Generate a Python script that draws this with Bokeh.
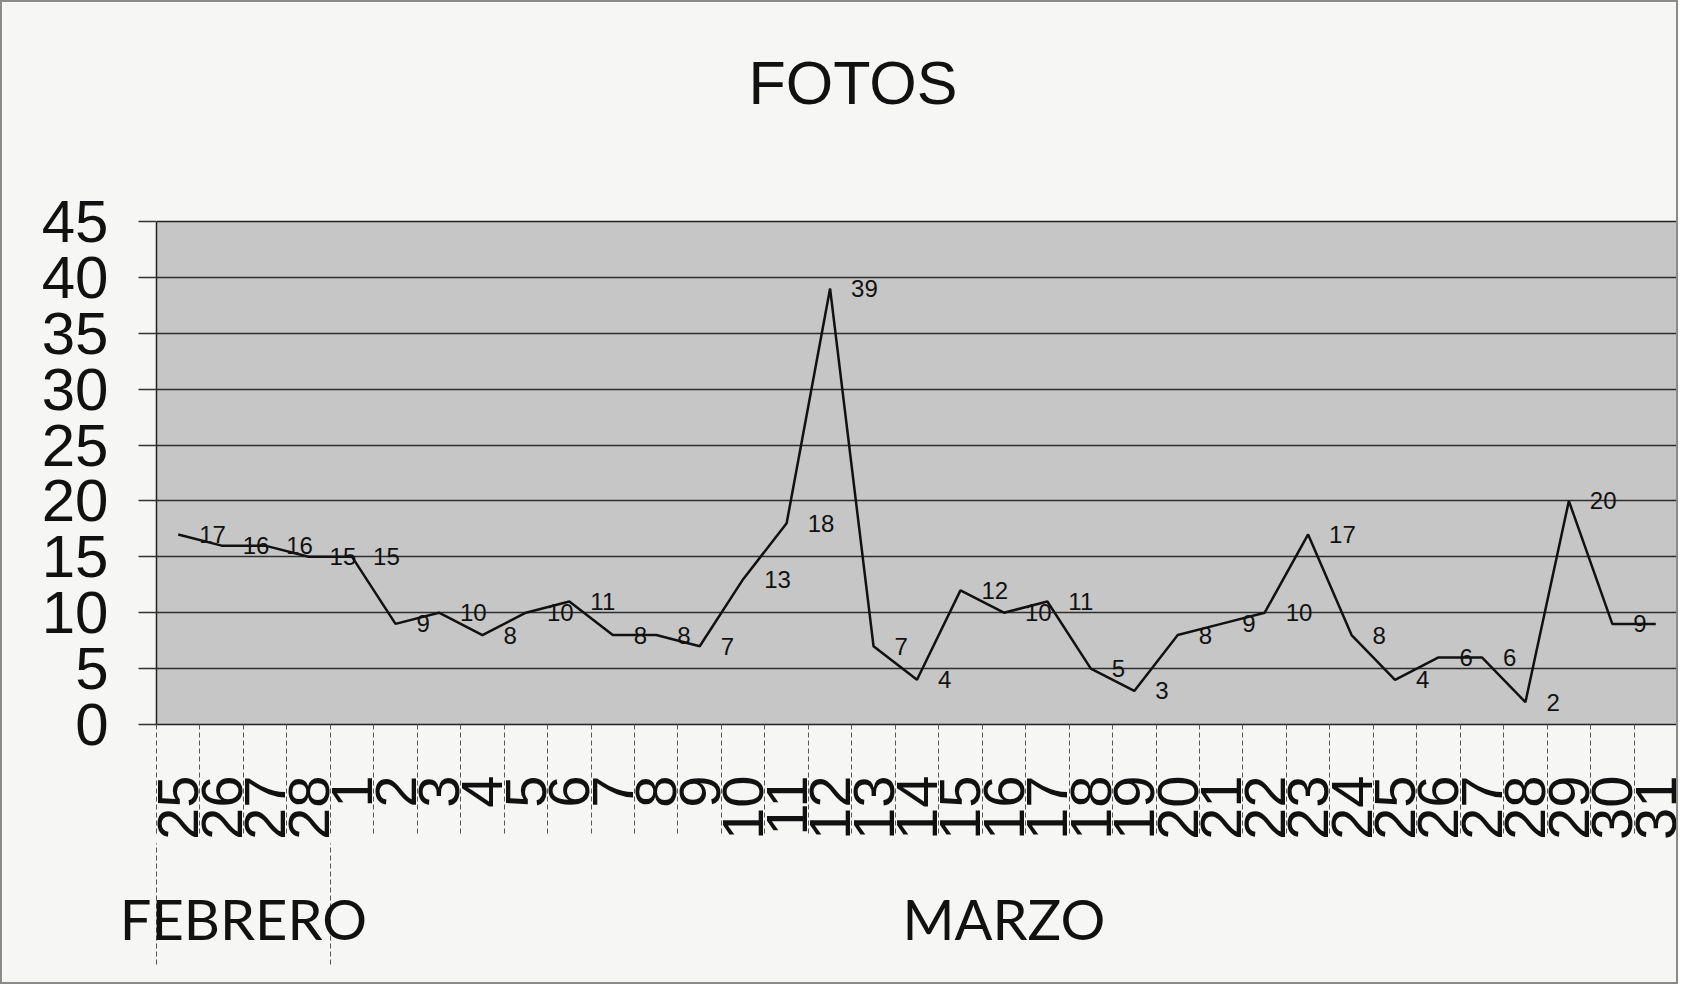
import math
from bokeh.plotting import figure
from bokeh.models import (Range1d, LinearAxis, FixedTicker, CustomJSTickFormatter,
                          ColumnDataSource)
from bokeh.core.properties import value
from bokeh.embed import file_html
from bokeh.resources import INLINE

# ---- data ----
months = ["FEBRERO", "MARZO"]
month_days = [
    ["25", "26", "27", "28"],
    [str(d) for d in range(1, 32)],
]
fotos = [17, 16, 16, 15, 15, 9, 10, 8, 10, 11, 8, 8, 7, 13, 18, 39, 7, 4,
         12, 10, 11, 5, 3, 8, 9, 10, 17, 8, 4, 6, 6, 2, 20, 9, 9]
y_ticks = [0, 5, 10, 15, 20, 25, 30, 35, 40, 45]

days = [d for grp in month_days for d in grp]
n = len(days)
xc = [i + 0.5 for i in range(n)]
bounds = list(range(n + 1))

grp_centres, grp_bounds = [], [0]
start = 0
for grp in month_days:
    grp_centres.append(start + len(grp) / 2)
    start += len(grp)
    grp_bounds.append(start)

src = ColumnDataSource(dict(x=xc, y=fotos, lbl=[str(v) for v in fotos]))

PAPER = "#f6f6f4"

p = figure(width=1678, height=984, output_backend="svg", toolbar_location=None,
           x_range=Range1d(0, n), y_range=Range1d(0, 45),
           x_axis_type=None, title="FOTOS",
           min_border_left=154, min_border_right=3, min_border_top=219,
           min_border_bottom=262)

p.styles = {"border": "2px solid #8a8a8a"}
p.background_fill_color = "#c6c6c6"
p.border_fill_color = PAPER
p.outline_line_color = "#222222"
p.outline_line_width = 1.5

# spacer between frame and title (invisible axis above)
spacer = LinearAxis(ticker=FixedTicker(ticks=[0], minor_ticks=[]),
                    formatter=CustomJSTickFormatter(code="return ''"))
spacer.axis_line_color = None
spacer.major_tick_out = 100
spacer.major_tick_in = 0
spacer.major_tick_line_color = PAPER
spacer.major_label_standoff = 0
spacer.major_label_text_font_size = "1px"
spacer.minor_tick_out = 0
spacer.minor_tick_in = 0
p.add_layout(spacer, "above")

# title
p.title.text_font = "Liberation Sans"
p.title.text_font_size = "61px"
p.title.text_font_style = "normal"
p.title.text_color = "#111111"
p.title.align = "left"
p.title.offset = 592
p.title.standoff = 10

# y axis
ya = p.yaxis[0]
ya.ticker = FixedTicker(ticks=y_ticks, minor_ticks=[])
ya.major_label_text_font = "Liberation Sans"
ya.major_label_text_font_size = "60px"
ya.major_label_text_color = "#111111"
ya.major_tick_out = 18
ya.major_tick_in = 0
ya.major_tick_line_color = "#333333"
ya.major_tick_line_width = 1.3
ya.major_label_standoff = 30
ya.axis_line_color = None

p.xgrid.visible = False
p.ygrid.ticker = FixedTicker(ticks=y_ticks)
p.ygrid.grid_line_color = "#2e2e2e"
p.ygrid.grid_line_width = 1.3

# x axis: day labels + dashed boundary ticks
ax1 = LinearAxis(
    ticker=FixedTicker(ticks=xc, minor_ticks=bounds),
    formatter=CustomJSTickFormatter(args=dict(labels=days),
                                    code="return labels[Math.floor(tick)]"),
)
ax1.major_label_orientation = math.pi / 2
ax1.major_label_text_font = "Liberation Sans"
ax1.major_label_text_font_size = "58px"
ax1.major_label_text_color = "#111111"
ax1.major_label_standoff = -58
ax1.major_tick_line_color = None
ax1.major_tick_out = 0
ax1.major_tick_in = 0
ax1.minor_tick_out = 109
ax1.minor_tick_in = 0
ax1.minor_tick_line_color = "#555555"
ax1.minor_tick_line_width = 1
ax1.minor_tick_line_dash = "5 3"
ax1.axis_line_color = None
p.add_layout(ax1, "below")

# x axis: month groups
ax2 = LinearAxis(
    ticker=FixedTicker(ticks=grp_centres, minor_ticks=grp_bounds),
    formatter=CustomJSTickFormatter(args=dict(labels=months, starts=grp_bounds),
                                    code="""
for (let i = 0; i < labels.length; i++) {
  if (tick >= starts[i] && tick < starts[i+1]) return labels[i];
}
return '';"""),
)
ax2.major_label_text_font = "Lato"
ax2.major_label_text_font_size = "56px"
ax2.major_label_text_color = "#111111"
ax2.major_label_standoff = -80
ax2.major_tick_line_color = None
ax2.major_tick_out = 0
ax2.major_tick_in = 0
ax2.minor_tick_out = 121
ax2.minor_tick_in = 0
ax2.minor_tick_line_color = "#555555"
ax2.minor_tick_line_width = 1
ax2.minor_tick_line_dash = "5 3"
ax2.axis_line_color = None
p.add_layout(ax2, "below")

# series
p.line("x", "y", source=src, line_color="#111111", line_width=2.5)
p.text("x", "y", text="lbl", source=src, x_offset=21,
       text_align="left", text_baseline="middle",
       text_font=value("Liberation Sans"), text_font_size="24px",
       text_color="#111111")

open("out.html", "w").write(file_html(p, INLINE))
